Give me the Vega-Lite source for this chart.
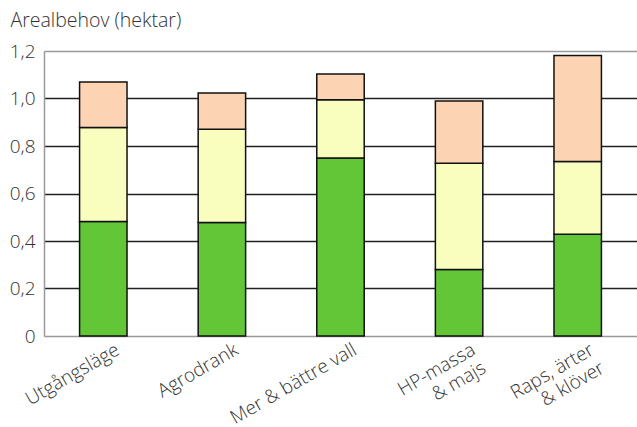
{
  "$schema": "https://vega.github.io/schema/vega-lite/v6.json",
  "autosize": "none",
  "width": 593,
  "height": 285,
  "padding": {"left": 44, "top": 51, "right": 0, "bottom": 91},
  "background": "white",
  "config": {"view": {"stroke": null}, "font": "Open Sans"},
  "data": {
    "values": [
      {"scenario": "Utgångsläge", "del": "A", "ordning": 1, "hektar": 0.482},
      {"scenario": "Utgångsläge", "del": "B", "ordning": 2, "hektar": 0.396},
      {"scenario": "Utgångsläge", "del": "C", "ordning": 3, "hektar": 0.191},
      {"scenario": "Agrodrank", "del": "A", "ordning": 1, "hektar": 0.478},
      {"scenario": "Agrodrank", "del": "B", "ordning": 2, "hektar": 0.393},
      {"scenario": "Agrodrank", "del": "C", "ordning": 3, "hektar": 0.152},
      {"scenario": "Mer & bättre vall", "del": "A", "ordning": 1, "hektar": 0.750},
      {"scenario": "Mer & bättre vall", "del": "B", "ordning": 2, "hektar": 0.245},
      {"scenario": "Mer & bättre vall", "del": "C", "ordning": 3, "hektar": 0.108},
      {"scenario": "HP-massa|& majs", "del": "A", "ordning": 1, "hektar": 0.280},
      {"scenario": "HP-massa|& majs", "del": "B", "ordning": 2, "hektar": 0.447},
      {"scenario": "HP-massa|& majs", "del": "C", "ordning": 3, "hektar": 0.263},
      {"scenario": "Raps, ärter|& klöver", "del": "A", "ordning": 1, "hektar": 0.428},
      {"scenario": "Raps, ärter|& klöver", "del": "B", "ordning": 2, "hektar": 0.307},
      {"scenario": "Raps, ärter|& klöver", "del": "C", "ordning": 3, "hektar": 0.446}
    ]
  },
  "mark": {"type": "bar", "stroke": "#111", "strokeWidth": 1.5},
  "encoding": {
    "x": {
      "field": "scenario",
      "type": "nominal",
      "sort": null,
      "scale": {"paddingInner": 0.6, "paddingOuter": 0.3},
      "axis": {
        "title": null,
        "labelAngle": -30,
        "labelAlign": "right",
        "labelBaseline": "top",
        "labelExpr": "split(datum.label, '|')",
        "labelFont": "Open Sans",
        "labelFontWeight": 300,
        "labelFontSize": 19,
        "labelColor": "#333",
        "labelPadding": 4,
        "labelOffset": 10,
        "labelLineHeight": 21,
        "ticks": false,
        "domain": false
      }
    },
    "y": {
      "field": "hektar",
      "type": "quantitative",
      "stack": "zero",
      "scale": {"domain": [0, 1.2], "nice": false},
      "axis": {
        "values": [0, 0.2, 0.4, 0.6, 0.8, 1.0, 1.2],
        "labelExpr": "datum.value == 0 ? '0' : replace(format(datum.value, '.1f'), '.', ',')",
        "labelFont": "Open Sans",
        "labelFontWeight": 300,
        "labelFontSize": 19,
        "labelColor": "#333",
        "labelPadding": 9,
        "ticks": false,
        "domainColor": "#999",
        "domainWidth": 1.5,
        "grid": true,
        "gridColor": {"expr": "datum.value == 1.2 || datum.value == 0 ? '#999' : '#222'"},
        "gridWidth": 1.4,
        "title": "Arealbehov (hektar)",
        "titleAngle": 0,
        "titleAlign": "left",
        "titleBaseline": "alphabetic",
        "titleX": -34,
        "titleY": -25,
        "titleFont": "Open Sans",
        "titleFontSize": 19.5,
        "titleFontWeight": 300,
        "titleColor": "#333"
      }
    },
    "color": {
      "field": "del",
      "type": "nominal",
      "scale": {"domain": ["A", "B", "C"], "range": ["#62c636", "#f9fdbd", "#fdd4b3"]},
      "legend": null
    },
    "order": {"field": "ordning", "type": "quantitative"}
  }
}
